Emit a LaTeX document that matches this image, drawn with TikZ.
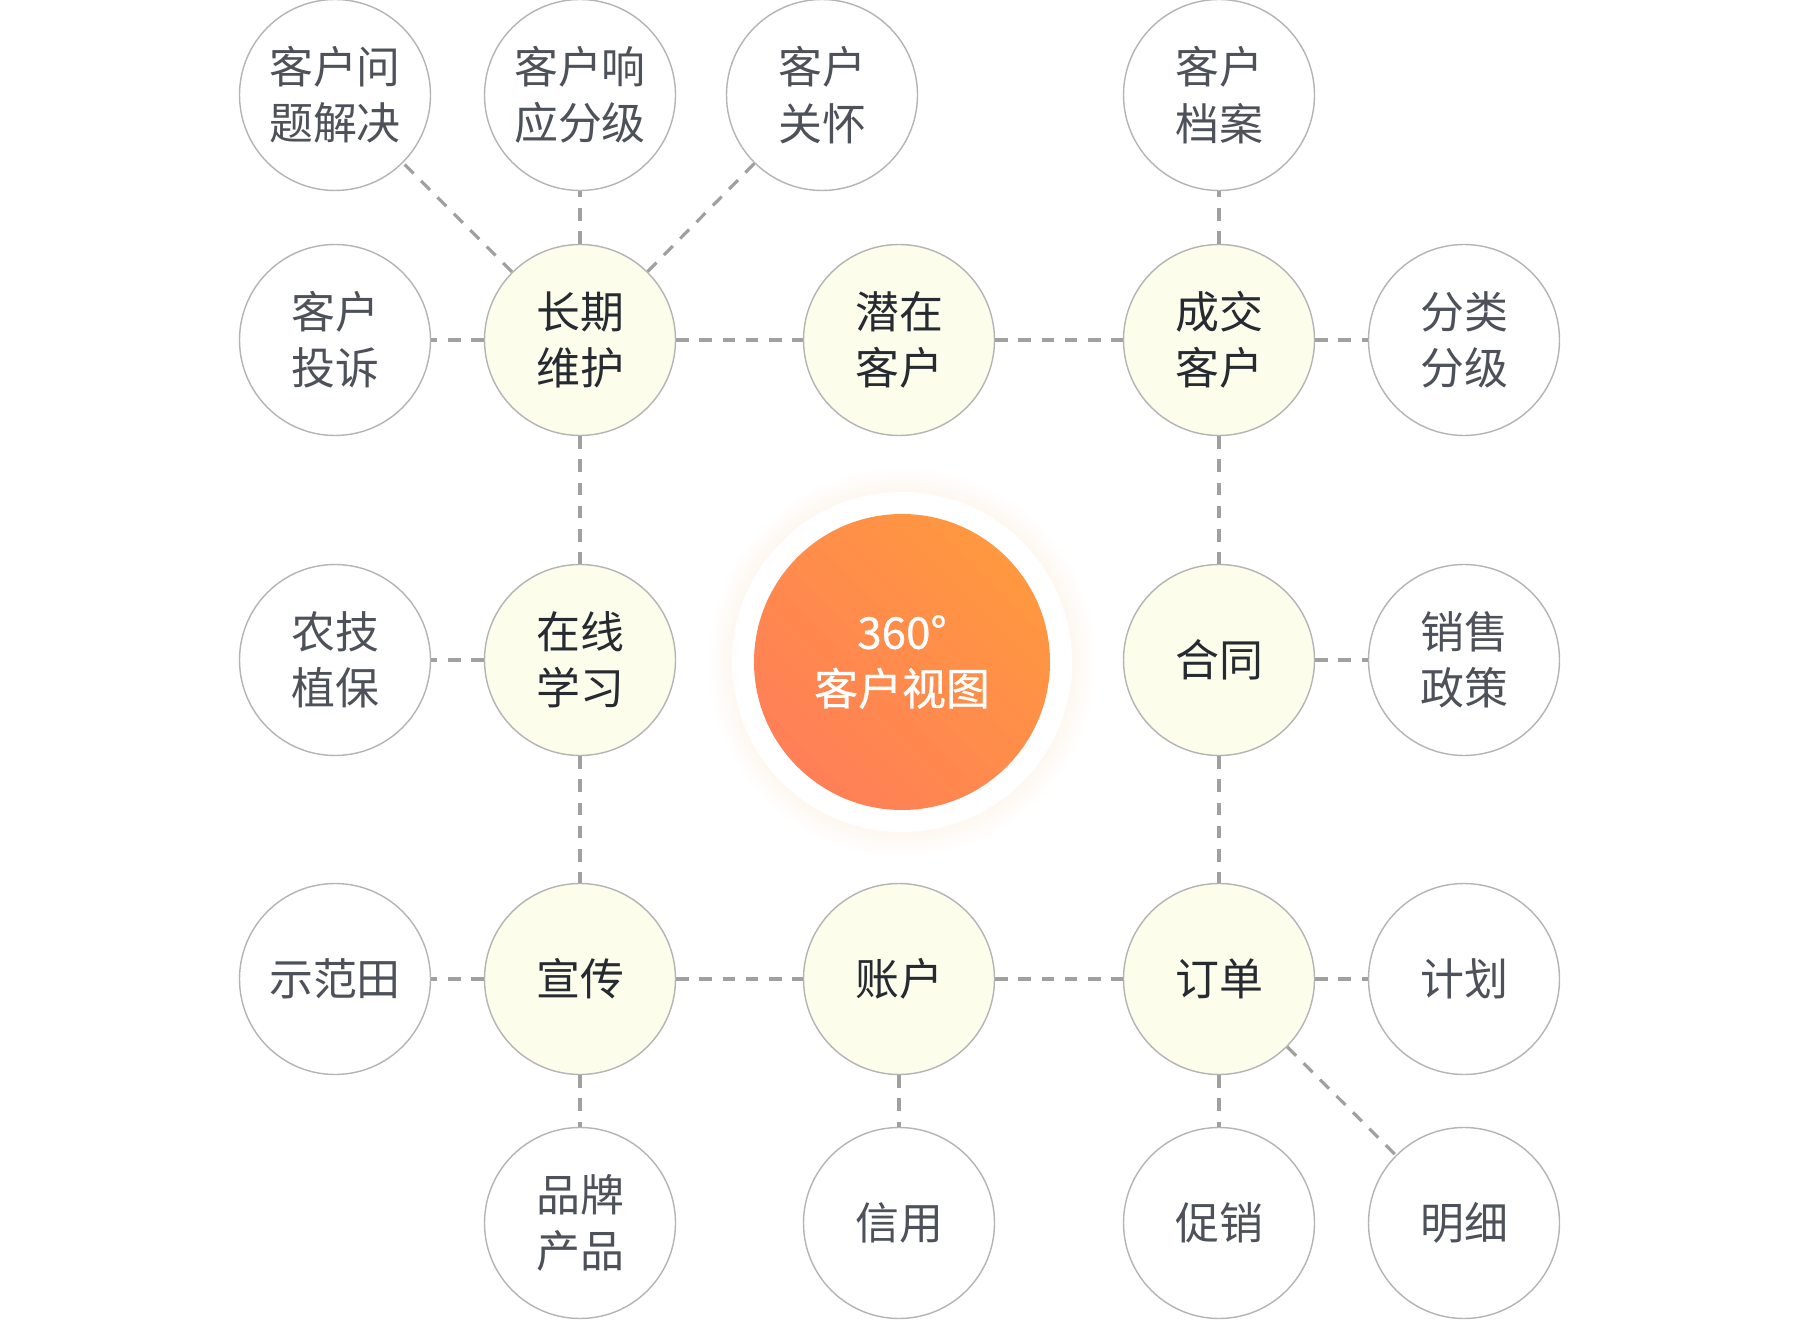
\documentclass[tikz,border=0pt]{standalone}
\usepackage{fontspec}
\setmainfont{Noto Sans CJK SC}
\newfontfamily\medio[FakeBold=0.6]{Noto Sans CJK SC}
\usetikzlibrary{positioning}
\definecolor{bordeGris}{HTML}{B4B4B4}
\definecolor{lineaGris}{HTML}{A0A0A0}
\definecolor{textoGris}{HTML}{4D525A}
\definecolor{textoOscuro}{HTML}{262A31}
\definecolor{crema}{HTML}{FDFDEC}
\definecolor{naranjaA}{HTML}{FF9840}
\definecolor{naranjaB}{HTML}{FF7F57}

\begin{document}
\begin{tikzpicture}[every node/.style={align=center,inner sep=0pt},
    burbuja/.style={circle,minimum size=3.82cm,font=\fontsize{25}{32}\selectfont},
    hoja/.style={burbuja,draw=bordeGris,line width=0.8pt,fill=white,text=textoGris},
    eje/.style={burbuja,draw=bordeGris,line width=0.8pt,fill=crema,text=textoOscuro},
    enlace/.style={lineaGris,line width=1.8pt,dash pattern=on 7.2pt off 6pt}]
    \useasboundingbox (0,0) rectangle (36,26.4);
    % centro
    \coordinate (centro) at (18.04,13.16);
    \foreach \r in {3.40,3.48,...,3.90}
      \fill[naranjaA,opacity=0.012] (centro) circle (\r);
    \node[circle,minimum size=6.8cm,fill=white] (anillo) at (centro) {};
    \node[burbuja,minimum size=5.92cm,top color=naranjaA,bottom color=naranjaB,
          shading angle=-45,text=white,font=\fontsize{25}{32}\medio] (vista) at (centro) {360°\\客户视图};
    % nodos principales
    \node[eje] (largo) at (11.60,19.60) {长期\\维护};
    \node[eje] (potencial) at (17.98,19.60) {潜在\\客户};
    \node[eje] (cerrado) at (24.38,19.60) {成交\\客户};
    \node[eje] (aprender) at (11.60,13.20) {在线\\学习};
    \node[eje] (contrato) at (24.38,13.20) {合同};
    \node[eje] (difusion) at (11.60,6.82) {宣传};
    \node[eje] (cuenta) at (17.98,6.82) {账户};
    \node[eje] (pedido) at (24.38,6.82) {订单};
    % nodos hoja
    \node[hoja] (problema) at (6.70,24.50) {客户问\\题解决};
    \node[hoja] (respuesta) at (11.60,24.50) {客户响\\应分级};
    \node[hoja] (cuidado) at (16.44,24.50) {客户\\关怀};
    \node[hoja] (archivo) at (24.38,24.50) {客户\\档案};
    \node[hoja] (queja) at (6.70,19.60) {客户\\投诉};
    \node[hoja] (clase) at (29.28,19.60) {分类\\分级};
    \node[hoja] (cultivo) at (6.70,13.20) {农技\\植保};
    \node[hoja] (politica) at (29.28,13.20) {销售\\政策};
    \node[hoja] (campo) at (6.70,6.82) {示范田};
    \node[hoja] (plan) at (29.28,6.82) {计划};
    \node[hoja] (marca) at (11.60,1.94) {品牌\\产品};
    \node[hoja] (credito) at (17.98,1.94) {信用};
    \node[hoja] (promo) at (24.38,1.94) {促销};
    \node[hoja] (detalle) at (29.28,1.94) {明细};
    % enlaces
    \draw[enlace] (largo) -- (problema);
    \draw[enlace] (largo) -- (respuesta);
    \draw[enlace] (largo) -- (cuidado);
    \draw[enlace] (largo) -- (queja);
    \draw[enlace] (largo) -- (potencial);
    \draw[enlace] (largo) -- (aprender);
    \draw[enlace] (potencial) -- (cerrado);
    \draw[enlace] (cerrado) -- (archivo);
    \draw[enlace] (cerrado) -- (clase);
    \draw[enlace] (cerrado) -- (contrato);
    \draw[enlace] (contrato) -- (politica);
    \draw[enlace] (contrato) -- (pedido);
    \draw[enlace] (aprender) -- (cultivo);
    \draw[enlace] (aprender) -- (difusion);
    \draw[enlace] (difusion) -- (campo);
    \draw[enlace] (difusion) -- (marca);
    \draw[enlace] (difusion) -- (cuenta);
    \draw[enlace] (cuenta) -- (credito);
    \draw[enlace] (cuenta) -- (pedido);
    \draw[enlace] (pedido) -- (plan);
    \draw[enlace] (pedido) -- (promo);
    \draw[enlace] (pedido) -- (detalle);
  \end{tikzpicture}
\end{document}
